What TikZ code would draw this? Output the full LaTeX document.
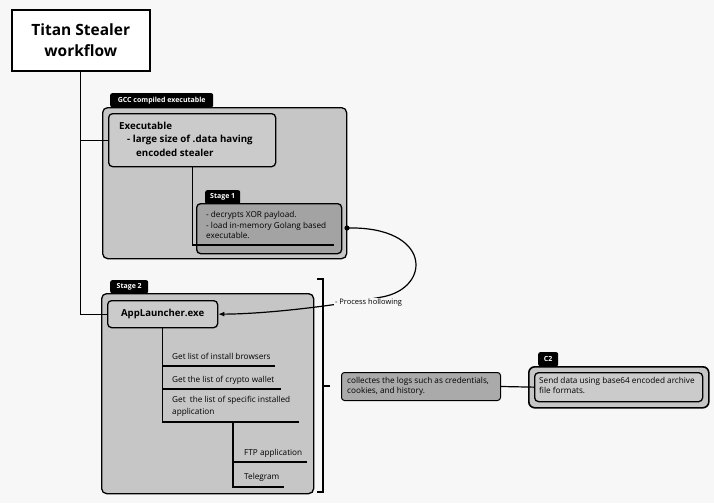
\documentclass[tikz,border=0pt]{standalone}
\usepackage{fontspec}
\setmainfont{Open Sans}
\usetikzlibrary{arrows.meta}
\definecolor{bg}{HTML}{F7F7F7}
\definecolor{cont}{HTML}{C6C6C6}
\definecolor{exebox}{HTML}{CBCBCB}
\definecolor{darkbox}{HTML}{A3A3A3}
\definecolor{logbox}{HTML}{AAAAAA}
\tikzset{
  container/.style={draw=black, line width=1.3pt, rounded corners=5pt, fill=cont, anchor=north west, inner sep=0pt},
  innerbox/.style={draw=black, line width=1.3pt, rounded corners=4pt, anchor=north west, inner sep=0pt},
  tabbox/.style={fill=black, text=white, rounded corners=2pt, anchor=north west, inner sep=0pt, font=\fontsize{7}{8}\selectfont\bfseries},
  txt/.style={anchor=north west, inner sep=0pt, align=left},
  small/.style={txt, font=\fontsize{8.2}{10.5}\selectfont},
  conn/.style={draw=black, line width=1.2pt},
}
\begin{document}
\begin{tikzpicture}[x=1pt,y=-1pt]
\fill[bg] (0,0) rectangle (714,503);
\useasboundingbox (0,0) rectangle (714,503);

% title
\node[draw=black, line width=1.6pt, fill=white, minimum width=138pt, minimum height=61pt, anchor=north west, inner sep=0pt,
  align=center, font=\fontsize{15.5}{21}\selectfont\bfseries] (title) at (11,9) {Titan Stealer\\workflow};

% GCC container
\node[container, minimum width=244pt, minimum height=151pt] (gcc) at (102,107) {};
\node[tabbox, minimum width=103pt, minimum height=14pt] (gcctab) at (110,93) {GCC compiled executable};
\node[innerbox, fill=exebox, minimum width=167pt, minimum height=53pt] (exe) at (108,113) {};
\node[txt, font=\fontsize{9.7}{13.5}\selectfont\bfseries] (exetxt) at (119,121.5) {Executable\\\hspace*{8pt}- large size of .data having\\\hspace*{17pt}encoded stealer};

% Stage 1
\node[tabbox, minimum width=35pt, minimum height=14pt] (s1tab) at (205,190) {Stage 1};
\node[innerbox, fill=darkbox, minimum width=145pt, minimum height=50pt] (s1) at (196,203) {};
\node[small] (s1txt) at (206,211.5) {- decrypts XOR payload.\\- load in-memory Golang based\\executable.};
\coordinate (s1end) at (334,245);
\draw[conn] (exe.south) |- (s1end);

% Stage 2
\node[container, minimum width=212pt, minimum height=200pt] (s2) at (101,293) {};
\node[tabbox, minimum width=38pt, minimum height=13pt] (s2tab) at (110,280) {Stage 2};
\node[innerbox, fill=exebox, minimum width=110pt, minimum height=27pt, font=\fontsize{9.6}{12}\selectfont\bfseries, anchor=north west] (app) at (107,300) {AppLauncher.exe};

% title connectors
\draw[conn] (title.south) |- (exe.west);
\draw[conn] (title.south) |- (app.west);

% tree
\coordinate (t1) at (275,366);
\coordinate (t2) at (281,389);
\coordinate (t3) at (299,422);
\coordinate (t4) at (307,462);
\coordinate (t5) at (284,487);
\draw[conn] (app.south) |- (t3);
\draw[conn] (app.south |- t1) -- (t1);
\draw[conn] (app.south |- t2) -- (t2);
\node[small] (i1) at (172,353) {Get list of install browsers};
\node[small] (i2) at (172,376) {Get the list of crypto wallet};
\node[small, font=\fontsize{8.2}{12.5}\selectfont] (i3) at (172,396) {Get\ \ the list of specific installed\\application};
\coordinate (sub) at (233,422);
\draw[conn] (sub) |- (t5);
\draw[conn] (sub |- t4) -- (t4);
\node[small] (i4) at (244,449) {FTP application};
\node[small] (i5) at (244,473) {Telegram};

% Process hollowing curve
\fill (347,228) circle (2.6pt);
\coordinate (dot) at (347,228);
\draw[line width=1.2pt, -{Latex[length=6pt,width=5pt]}] (dot) .. controls (432,226) and (432,288) .. (382,297) .. controls (320,308) and (260,314) .. (app.east);
\node[txt, fill=bg, inner sep=0.8pt, font=\fontsize{7.5}{8}\selectfont] (ph) at (334,297.5) {- Process hollowing};

% bracket
\coordinate (bmid) at (330,386);
\draw[conn] (317,279) -- (323,279) -- (323,492) -- (317,492);
\draw[conn] (323,386) -- (bmid);

% collectes
\node[draw=black, line width=1pt, rounded corners=3pt, fill=logbox, minimum width=159pt, minimum height=28pt, anchor=north west, inner sep=0pt] (logs) at (341,372) {};
\node[small, font=\fontsize{8.2}{10}\selectfont] (logstxt) at (347,377) {collectes the logs such as credentials,\\cookies, and history.};

% C2
\node[tabbox, minimum width=20pt, minimum height=14pt] (c2tab) at (538,352) {C2};
\node[draw=black, line width=1.6pt, rounded corners=6pt, fill=cont, minimum width=180pt, minimum height=41pt, anchor=north west, inner sep=0pt] (c2) at (528,366) {};
\node[innerbox, fill=exebox, minimum width=168pt, minimum height=29pt] (c2in) at (534,372) {};
\node[small, font=\fontsize{8.2}{10}\selectfont] (c2txt) at (539,377) {Send data using base64 encoded archive\\file formats.};
\draw[conn] (logs.east) -- (c2in.west);
\end{tikzpicture}
\end{document}
